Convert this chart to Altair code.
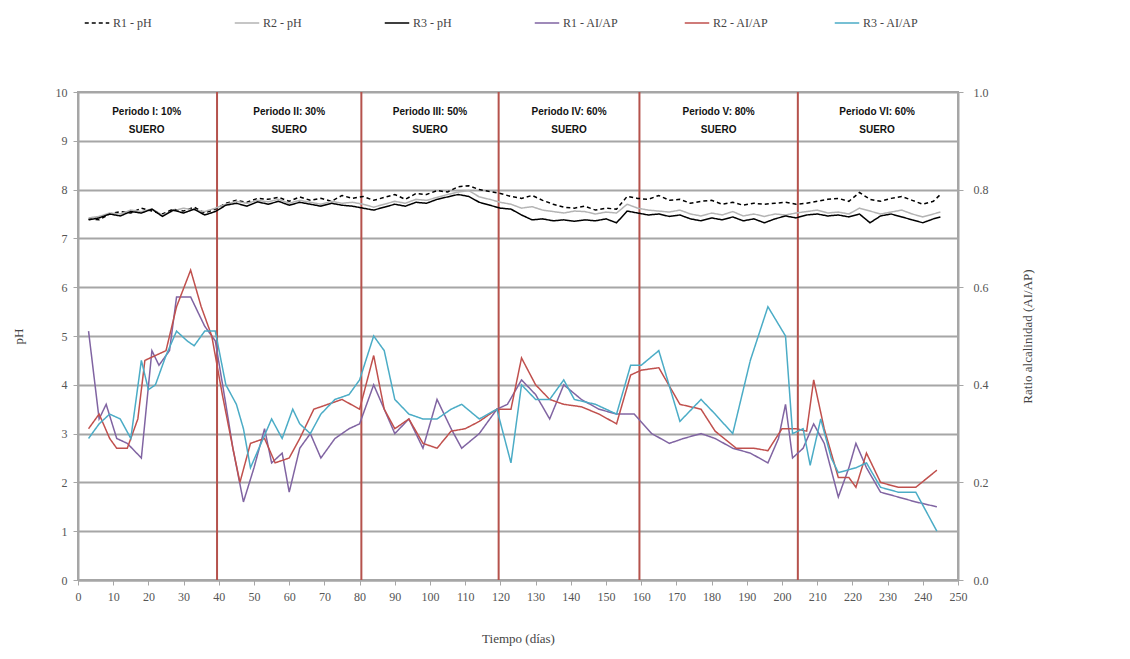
import altair as alt
import pandas as pd

# ---------------- data ----------------
series_names = ["R1 - pH", "R2 - pH", "R3 - pH", "R1 - AI/AP", "R2 - AI/AP", "R3 - AI/AP"]
series_colors = ["#000000", "#B4B4B4", "#000000", "#8064A2", "#C0504D", "#4BACC6"]
series_dashes = [[4, 3], [1, 0], [1, 0], [1, 0], [1, 0], [1, 0]]

days_ph = [3, 6, 9, 12, 15, 18, 21, 24, 27, 30, 33, 36, 39,
           42, 45, 48, 51, 54, 57, 60, 63, 66, 69, 72, 75, 78,
           81, 84, 87, 90, 93, 96, 99, 102, 105, 108, 111, 114, 117,
           120, 123, 126, 129, 132, 135, 138, 141, 144, 147, 150, 153, 156,
           159, 162, 165, 168, 171, 174, 177, 180, 183, 186, 189, 192, 195,
           198, 201, 204, 207, 210, 213, 216, 219, 222, 225, 228, 231, 234,
           237, 240, 243, 245]

r1_ph = [7.40, 7.38, 7.50, 7.55, 7.52, 7.62, 7.56, 7.50, 7.60, 7.56, 7.64, 7.52, 7.60,
         7.72, 7.78, 7.74, 7.82, 7.80, 7.84, 7.76, 7.85, 7.78, 7.82, 7.76, 7.88, 7.82,
         7.86, 7.78, 7.84, 7.90, 7.80, 7.92, 7.90, 7.98, 7.95, 8.06, 8.08, 8.00, 7.96,
         7.92, 7.86, 7.82, 7.88, 7.78, 7.70, 7.64, 7.62, 7.66, 7.58, 7.62, 7.60, 7.86,
         7.82, 7.80, 7.88, 7.78, 7.80, 7.72, 7.76, 7.78, 7.70, 7.74, 7.68, 7.72, 7.70,
         7.72, 7.74, 7.70, 7.72, 7.76, 7.80, 7.82, 7.76, 7.94, 7.80, 7.76, 7.82, 7.86,
         7.78, 7.70, 7.76, 7.90]

r2_ph = [7.42, 7.45, 7.52, 7.50, 7.58, 7.55, 7.60, 7.48, 7.56, 7.62, 7.58, 7.55, 7.62,
         7.70, 7.76, 7.72, 7.78, 7.75, 7.80, 7.72, 7.78, 7.74, 7.70, 7.76, 7.72, 7.74,
         7.70, 7.64, 7.70, 7.76, 7.72, 7.80, 7.78, 7.84, 7.90, 7.95, 7.98, 7.85, 7.80,
         7.74, 7.70, 7.62, 7.65, 7.58, 7.55, 7.52, 7.56, 7.55, 7.50, 7.54, 7.52, 7.70,
         7.62, 7.58, 7.56, 7.54, 7.58, 7.50, 7.46, 7.52, 7.48, 7.55, 7.46, 7.50, 7.45,
         7.50, 7.48, 7.52, 7.55, 7.58, 7.52, 7.54, 7.50, 7.62, 7.56, 7.50, 7.54, 7.58,
         7.50, 7.44, 7.50, 7.54]

r3_ph = [7.38, 7.42, 7.50, 7.46, 7.55, 7.52, 7.60, 7.45, 7.58, 7.52, 7.60, 7.48, 7.55,
         7.68, 7.72, 7.66, 7.75, 7.70, 7.76, 7.68, 7.74, 7.70, 7.66, 7.72, 7.68, 7.66,
         7.62, 7.58, 7.64, 7.70, 7.66, 7.74, 7.72, 7.80, 7.85, 7.90, 7.86, 7.74, 7.68,
         7.62, 7.60, 7.48, 7.38, 7.40, 7.36, 7.38, 7.35, 7.38, 7.36, 7.40, 7.32, 7.56,
         7.52, 7.48, 7.50, 7.45, 7.48, 7.40, 7.36, 7.42, 7.38, 7.44, 7.36, 7.40, 7.32,
         7.40, 7.46, 7.42, 7.48, 7.50, 7.46, 7.48, 7.44, 7.50, 7.32, 7.46, 7.50, 7.44,
         7.38, 7.32, 7.40, 7.44]

r1_ai_days = [3, 6, 8, 11, 14, 18, 21, 23, 26, 28, 32, 36, 39, 42, 44, 47, 50, 53, 55, 58,
              60, 63, 66, 69, 73, 77, 80, 84, 87, 90, 94, 98, 102, 106, 109, 114, 119, 122,
              126, 130, 134, 138, 143, 148, 153, 158, 163, 168, 172, 177, 181, 186, 191, 196,
              199, 201, 203, 206, 209, 212, 216, 219, 221, 224, 228, 233, 238, 244]
r1_ai = [0.51, 0.33, 0.36, 0.29, 0.28, 0.25, 0.47, 0.44, 0.47, 0.58, 0.58, 0.52, 0.49, 0.36,
         0.27, 0.16, 0.23, 0.31, 0.24, 0.26, 0.18, 0.27, 0.30, 0.25, 0.29, 0.31, 0.32, 0.40,
         0.35, 0.30, 0.33, 0.27, 0.37, 0.31, 0.27, 0.30, 0.35, 0.36, 0.41, 0.38, 0.33, 0.40,
         0.37, 0.35, 0.34, 0.34, 0.30, 0.28, 0.29, 0.30, 0.29, 0.27, 0.26, 0.24, 0.29, 0.36,
         0.25, 0.27, 0.32, 0.28, 0.17, 0.23, 0.28, 0.23, 0.18, 0.17, 0.16, 0.15]

r2_ai_days = [3, 6, 9, 11, 14, 17, 19, 22, 25, 28, 32, 35, 38, 41, 44, 46, 49, 53, 56, 60,
              63, 67, 71, 75, 80, 84, 87, 90, 94, 98, 102, 106, 110, 114, 119, 123, 126, 130,
              134, 138, 143, 148, 153, 157, 160, 165, 171, 177, 181, 187, 192, 196, 200, 204,
              207, 209, 212, 216, 219, 221, 224, 228, 233, 238, 244]
r2_ai = [0.31, 0.34, 0.29, 0.27, 0.27, 0.33, 0.45, 0.46, 0.47, 0.56, 0.635, 0.56, 0.50, 0.38,
         0.27, 0.20, 0.28, 0.29, 0.24, 0.25, 0.29, 0.35, 0.36, 0.37, 0.35, 0.46, 0.35, 0.31,
         0.33, 0.28, 0.27, 0.305, 0.31, 0.325, 0.35, 0.35, 0.455, 0.40, 0.37, 0.36, 0.355,
         0.34, 0.32, 0.42, 0.43, 0.435, 0.36, 0.35, 0.305, 0.27, 0.27, 0.265, 0.31, 0.31,
         0.305, 0.41, 0.31, 0.21, 0.21, 0.19, 0.26, 0.20, 0.19, 0.19, 0.225]

r3_ai_days = [3, 6, 9, 12, 15, 18, 20, 22, 25, 28, 31, 33, 36, 39, 42, 45, 47, 49, 52, 55,
              58, 61, 63, 66, 69, 73, 77, 80, 84, 87, 90, 94, 98, 102, 106, 109, 114, 119,
              123, 126, 130, 134, 138, 141, 147, 153, 157, 160, 165, 171, 177, 181, 186, 191,
              196, 201, 203, 206, 208, 211, 214, 216, 221, 224, 228, 233, 238, 241, 244]
r3_ai = [0.29, 0.32, 0.34, 0.33, 0.29, 0.45, 0.39, 0.40, 0.46, 0.51, 0.49, 0.48, 0.51, 0.51,
         0.40, 0.36, 0.31, 0.23, 0.28, 0.33, 0.29, 0.35, 0.32, 0.30, 0.34, 0.37, 0.38, 0.41,
         0.50, 0.47, 0.37, 0.34, 0.33, 0.33, 0.35, 0.36, 0.33, 0.35, 0.24, 0.40, 0.37, 0.37,
         0.41, 0.37, 0.36, 0.34, 0.44, 0.44, 0.47, 0.325, 0.37, 0.34, 0.30, 0.45, 0.56, 0.50,
         0.30, 0.31, 0.235, 0.33, 0.25, 0.22, 0.23, 0.24, 0.19, 0.18, 0.18, 0.14, 0.10]

period_bounds = [39.5, 80.5, 119.5, 159.5, 204.5]
period_centers = [19.5, 60, 100, 139.5, 182, 227]
period_labels = ["Periodo I: 10%\nSUERO", "Periodo II: 30%\nSUERO", "Periodo III: 50%\nSUERO",
                 "Periodo IV: 60%\nSUERO", "Periodo V: 80%\nSUERO", "Periodo VI: 60%\nSUERO"]
period_label_y = [9.58] * 6

# ---------------- frames ----------------
ph_df = pd.concat([
    pd.DataFrame({"dia": days_ph, "valor": r1_ph, "serie": "R1 - pH"}),
    pd.DataFrame({"dia": days_ph, "valor": r2_ph, "serie": "R2 - pH"}),
    pd.DataFrame({"dia": days_ph, "valor": r3_ph, "serie": "R3 - pH"}),
])
ai_df = pd.concat([
    pd.DataFrame({"dia": r1_ai_days, "valor": r1_ai, "serie": "R1 - AI/AP"}),
    pd.DataFrame({"dia": r2_ai_days, "valor": r2_ai, "serie": "R2 - AI/AP"}),
    pd.DataFrame({"dia": r3_ai_days, "valor": r3_ai, "serie": "R3 - AI/AP"}),
])
bounds_df = pd.DataFrame({"dia": period_bounds})
labels_df = pd.DataFrame({"dia": period_centers, "valor": period_label_y, "txt": period_labels})

SERIF = "Liberation Serif"
GRID = "#A6A6A6"

legend = alt.Legend(title=None, orient="none", legendX=6, legendY=-82, direction="horizontal",
                    columns=6, gridAlign="all", columnPadding=62, symbolType="stroke",
                    symbolSize=600, symbolStrokeWidth=1.5, labelFont=SERIF, labelFontSize=12,
                    labelColor="#444444", labelOffset=3)

color = alt.Color("serie:N", scale=alt.Scale(domain=series_names, range=series_colors), legend=legend)
dash = alt.StrokeDash("serie:N", scale=alt.Scale(domain=series_names, range=series_dashes), legend=legend)

x_enc = alt.X("dia:Q", scale=alt.Scale(domain=[0, 250], nice=False, zero=False),
              axis=alt.Axis(title="Tiempo (días)", values=list(range(0, 251, 10)), grid=False,
                            domainColor=GRID, domainWidth=2, tickColor=GRID, tickSize=5,
                            labelFont=SERIF, labelFontSize=12, labelColor="#555555",
                            labelPadding=6, titleFont=SERIF, titleFontSize=13,
                            titleFontWeight="normal", titleColor="#444444", titlePadding=30,
                            labelFlush=False))

y_ph = alt.Y("valor:Q", scale=alt.Scale(domain=[0, 10], nice=False),
             axis=alt.Axis(title="pH", orient="left", values=list(range(0, 11)), grid=True,
                           gridColor=GRID, gridWidth=2, domainColor=GRID, domainWidth=2,
                           tickColor=GRID, tickSize=5, labelFont=SERIF, labelFontSize=12,
                           labelColor="#555555", labelPadding=6, titleFont=SERIF,
                           titleFontSize=13, titleFontWeight="normal", titleColor="#444444",
                           titlePadding=30))

y_ai = alt.Y("valor:Q", scale=alt.Scale(domain=[0, 1], nice=False),
             axis=alt.Axis(title="Ratio alcalinidad (AI/AP)", orient="right",
                           values=[0, 0.2, 0.4, 0.6, 0.8, 1.0], format=".1f", grid=False,
                           domainColor=GRID, domainWidth=2, tickColor=GRID, tickSize=5,
                           labelFont=SERIF, labelFontSize=12, labelColor="#555555",
                           labelPadding=10, titleFont=SERIF, titleFontSize=13,
                           titleFontWeight="normal", titleColor="#444444", titleAngle=270,
                           titlePadding=46))

rules = alt.Chart(bounds_df).mark_rule(color="#B5524C", strokeWidth=2).encode(x=x_enc)

texts = alt.Chart(labels_df).mark_text(font="Liberation Sans", fontSize=10, fontWeight="bold",
                                       lineBreak="\n", lineHeight=18, color="#111111",
                                       baseline="middle", align="center").encode(
    x=x_enc, y=y_ph, text="txt:N")

ph_lines = alt.Chart(ph_df).mark_line(strokeWidth=1.5).encode(
    x=x_enc, y=y_ph, color=color, strokeDash=dash, detail="serie:N")

ai_lines = alt.Chart(ai_df).mark_line(strokeWidth=1.5).encode(
    x=x_enc, y=y_ai, color=color, strokeDash=dash, detail="serie:N")

ph_layer = alt.layer(texts, ph_lines)

chart = alt.layer(rules, ph_layer, ai_lines).resolve_scale(y="independent").properties(
    width=880, height=488,
    autosize=alt.AutoSizeParams(type="none"),
    padding={"left": 70, "top": 84, "right": 160, "bottom": 76},
).configure_view(stroke=GRID, strokeWidth=2)

chart.save("out.html", embed_options={"renderer": "svg", "actions": False})
